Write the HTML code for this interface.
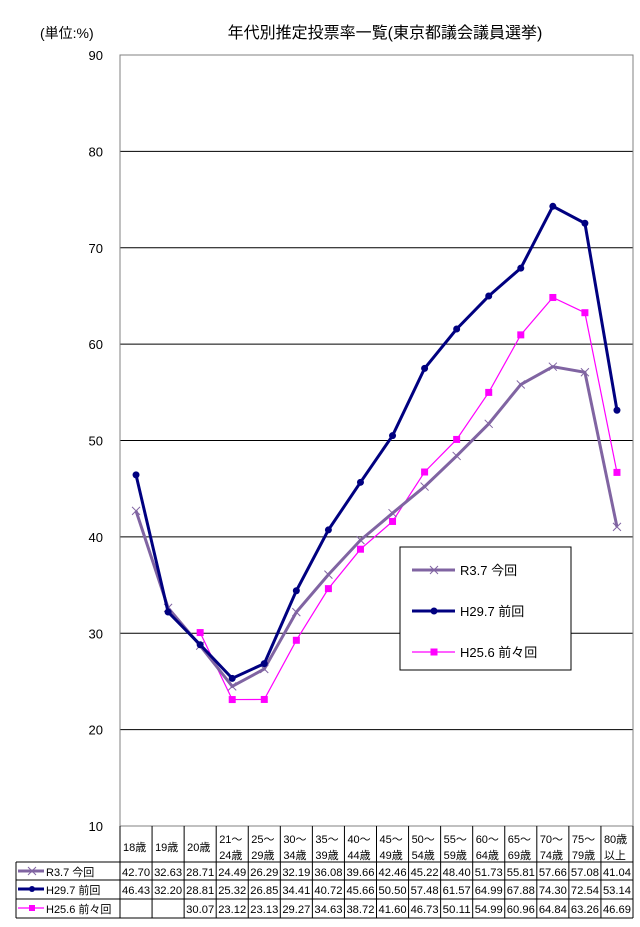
<!DOCTYPE html>
<html><head><meta charset="utf-8"><style>
body{margin:0;background:#fff;width:640px;height:922px;overflow:hidden}
svg text{font-family:"Liberation Sans","Noto Sans CJK JP",sans-serif;}
</style></head><body>
<svg id="s" width="640" height="922" xmlns="http://www.w3.org/2000/svg"></svg>
<script>
const s=document.getElementById('s');
const X0=120,X1=633,W=(X1-X0)/16,Y=v=>826-(v-10)*9.6375;
let h='';
h+='<text x="40" y="38" font-size="14">(単位:%)</text>';
h+='<text x="385" y="38" font-size="16" text-anchor="middle">年代別推定投票率一覧(東京都議会議員選挙)</text>';
for(let v=10;v<=90;v+=10){const y=Y(v);
 if(v>10&&v<90)h+=`<line x1="${X0}" x2="${X1}" y1="${y}" y2="${y}" stroke="#000" stroke-width="1"/>`;
 h+=`<text x="103" y="${y+5}" font-size="13" text-anchor="end">${v}</text>`;}
h+=`<rect x="${X0}" y="${Y(90)}" width="${X1-X0}" height="${826-Y(90)}" fill="none" stroke="#808080"/>`;
const cats=[["18歳"],["19歳"],["20歳"],["21～","24歳"],["25～","29歳"],["30～","34歳"],["35～","39歳"],["40～","44歳"],["45～","49歳"],["50～","54歳"],["55～","59歳"],["60～","64歳"],["65～","69歳"],["70～","74歳"],["75～","79歳"],["80歳","以上"]];
const R=[42.70,32.63,28.71,24.49,26.29,32.19,36.08,39.66,42.46,45.22,48.40,51.73,55.81,57.66,57.08,41.04];
const H=[46.43,32.20,28.81,25.32,26.85,34.41,40.72,45.66,50.50,57.48,61.57,64.99,67.88,74.30,72.54,53.14];
const P=[null,null,30.07,23.12,23.13,29.27,34.63,38.72,41.60,46.73,50.11,54.99,60.96,64.84,63.26,46.69];
const cx=i=>X0+W*(i+.5);
function line(d,c,w){let pts=d.map((v,i)=>v==null?null:cx(i)+','+Y(v)).filter(p=>p);return `<polyline points="${pts.join(' ')}" fill="none" stroke="${c}" stroke-width="${w}"/>`;}
h+=line(P,'#ff00ff',1.2);
P.forEach((v,i)=>{if(v!=null)h+=`<rect x="${cx(i)-3.5}" y="${Y(v)-3.5}" width="7" height="7" fill="#ff00ff"/>`;});
h+=line(R,'#8064a2',3);
R.forEach((v,i)=>{const x=cx(i),y=Y(v);h+=`<path d="M${x-4} ${y-4}L${x+4} ${y+4}M${x-4} ${y+4}L${x+4} ${y-4}" stroke="#8064a2" stroke-width="1"/>`;});
h+=line(H,'#000080',3);
H.forEach((v,i)=>{h+=`<circle cx="${cx(i)}" cy="${Y(v)}" r="3.5" fill="#000080"/>`;});
h+='<rect x="400" y="547" width="171" height="123" fill="#fff" stroke="#000"/>';
const L=[['R3.7 今回','#8064a2',3,'x'],['H29.7 前回','#000080',3,'o'],['H25.6 前々回','#ff00ff',1.2,'s']];
L.forEach((l,k)=>{const y=570+k*41;h+=`<line x1="412" x2="455" y1="${y}" y2="${y}" stroke="${l[1]}" stroke-width="${l[2]}"/>`;
 if(l[3]=='x')h+=`<path d="M430 ${y-4}L438 ${y+4}M430 ${y+4}L438 ${y-4}" stroke="${l[1]}"/>`;
 if(l[3]=='o')h+=`<circle cx="434" cy="${y}" r="3.5" fill="${l[1]}"/>`;
 if(l[3]=='s')h+=`<rect x="430.5" y="${y-3.5}" width="7" height="7" fill="${l[1]}"/>`;
 h+=`<text x="460" y="${y+5}" font-size="13">${l[0]}</text>`;});
const rows=[862,880,899,918];
for(let i=0;i<=16;i++){const x=X0+W*i;h+=`<line x1="${x}" x2="${x}" y1="826" y2="918" stroke="#000"/>`;}
h+=`<line x1="16" x2="16" y1="862" y2="918" stroke="#000"/>`;
rows.forEach(y=>h+=`<line x1="16" x2="${X1}" y1="${y}" y2="${y}" stroke="#000"/>`);
cats.forEach((c,i)=>{const x=X0+W*i+3;
 if(c.length==1)h+=`<text x="${x}" y="851" font-size="11">${c[0]}</text>`;
 else{h+=`<text x="${x}" y="843" font-size="11">${c[0]}</text><text x="${x}" y="859" font-size="11">${c[1]}</text>`;}});
[R,H,P].forEach((d,r)=>{const y=rows[r]+14;const l=L[r];
 h+=`<line x1="18" x2="44" y1="${y-5}" y2="${y-5}" stroke="${l[1]}" stroke-width="${l[2]}"/>`;
 if(l[3]=='x')h+=`<path d="M28 ${y-9}L36 ${y-1}M28 ${y-1}L36 ${y-9}" stroke="${l[1]}"/>`;
 if(l[3]=='o')h+=`<circle cx="32" cy="${y-5}" r="3" fill="${l[1]}"/>`;
 if(l[3]=='s')h+=`<rect x="29" y="${y-8}" width="6" height="6" fill="${l[1]}"/>`;
 h+=`<text x="46" y="${y}" font-size="11">${l[0]}</text>`;
 d.forEach((v,i)=>{if(v!=null)h+=`<text x="${X0+W*i+2}" y="${y}" font-size="11" textLength="${W-4}" lengthAdjust="spacingAndGlyphs">${v.toFixed(2)}</text>`;});});
s.innerHTML=h;
</script>
</body></html>
